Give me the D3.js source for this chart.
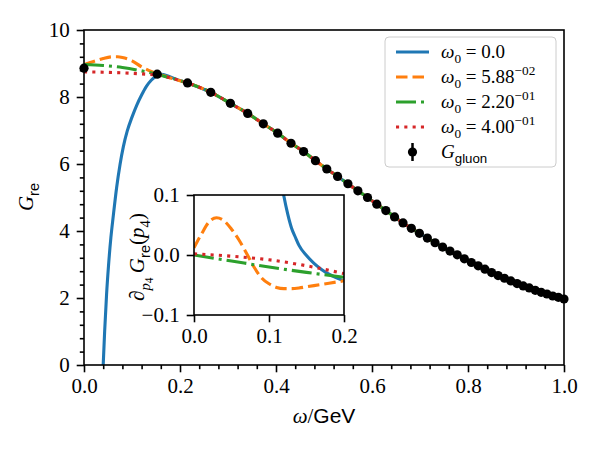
<!DOCTYPE html>
<html>
<head>
<meta charset="utf-8">
<script src="https://cdn.jsdelivr.net/npm/d3@7"></script>
<style>
  body { margin: 0; background: #fff; }
  svg { display: block; }
</style>
</head>
<body>
<div id="chart"></div>
<script>
// G_gluon points
const gluonX = [0, 0.1525, 0.2157, 0.2641, 0.3050, 0.3410, 0.3735, 0.4035, 0.4313, 0.4575,
    0.4822, 0.5058, 0.5283, 0.5498, 0.5706, 0.5906, 0.6100, 0.6288, 0.6470, 0.6647,
    0.6820, 0.6988, 0.7153, 0.7314, 0.7471, 0.7625, 0.7776, 0.7924, 0.8069, 0.8212,
    0.8353, 0.8491, 0.8627, 0.8760, 0.8892, 0.9022, 0.9150, 0.9276, 0.9401, 0.9524,
    0.9645, 0.9765, 0.9883, 1.0];
const gluonG = [8.86, 8.68, 8.42, 8.14, 7.81, 7.51, 7.20, 6.92, 6.62, 6.37,
    6.10, 5.85, 5.63, 5.41, 5.20, 5.00, 4.80, 4.61, 4.42, 4.24,
    4.08, 3.93, 3.79, 3.65, 3.52, 3.40, 3.29, 3.17, 3.06, 2.96,
    2.86, 2.76, 2.67, 2.59, 2.51, 2.43, 2.36, 2.30, 2.23, 2.17,
    2.12, 2.06, 2.02, 1.97];

// common part of all fitted curves (x >= 0.2)
const tailX = [0.2157, 0.2641, 0.3050, 0.3410, 0.3735, 0.4035, 0.4313, 0.4575, 0.4822, 0.5058,
    0.5283, 0.5498, 0.5706, 0.5906, 0.6100, 0.6288, 0.6470, 0.6647, 0.6820, 0.6988,
    0.7153, 0.7314, 0.7471, 0.7625, 0.7776, 0.7924, 0.8069, 0.8212, 0.8353, 0.8491,
    0.8627, 0.8760, 0.8892, 0.9022, 0.9150, 0.9276, 0.9401, 0.9524, 0.9645, 0.9765,
    0.9883, 1.0];
const tailG = [8.42, 8.14, 7.81, 7.51, 7.20, 6.92, 6.62, 6.37, 6.10, 5.85,
    5.63, 5.41, 5.20, 5.00, 4.80, 4.61, 4.42, 4.24, 4.08, 3.93,
    3.79, 3.65, 3.52, 3.40, 3.29, 3.17, 3.06, 2.96, 2.86, 2.76,
    2.67, 2.59, 2.51, 2.43, 2.36, 2.30, 2.23, 2.17, 2.12, 2.06,
    2.02, 1.97];

// low-omega parts of each curve
const blueX = [0.036, 0.040, 0.043, 0.047, 0.051, 0.056, 0.061, 0.068, 0.075, 0.082, 0.090,
    0.100, 0.110, 0.120, 0.130, 0.140, 0.150, 0.160, 0.175, 0.190];
const blueG = [-1.6, 0.0, 1.0, 2.1, 2.95, 3.8, 4.45, 5.3, 5.98, 6.52, 6.98,
    7.40, 7.76, 8.06, 8.32, 8.50, 8.62, 8.68, 8.63, 8.54];
const orangeX = [0, 0.02, 0.04, 0.06, 0.07, 0.08, 0.10, 0.12, 0.14, 0.16, 0.18];
const orangeG = [8.97, 9.06, 9.15, 9.20, 9.20, 9.18, 9.08, 8.90, 8.76, 8.66, 8.57];
const greenX = [0, 0.04, 0.08, 0.12, 0.16, 0.18];
const greenG = [8.97, 8.94, 8.88, 8.78, 8.65, 8.57];
const redX = [0, 0.04, 0.08, 0.12, 0.16, 0.18];
const redG = [8.75, 8.74, 8.72, 8.69, 8.64, 8.57];

// inset: derivative
const dBlueX = [0.116, 0.120, 0.125, 0.130, 0.135, 0.140, 0.150, 0.160, 0.170, 0.180, 0.190, 0.200];
const dBlueY = [0.125, 0.097, 0.068, 0.045, 0.030, 0.016, -0.001, -0.014, -0.024, -0.032, -0.038, -0.043];
const dOrangeX = [0, 0.01, 0.02, 0.03, 0.04, 0.05, 0.06, 0.07, 0.08, 0.09, 0.10,
    0.11, 0.12, 0.13, 0.14, 0.15, 0.16, 0.17, 0.18, 0.19, 0.20];
const dOrangeY = [0.012, 0.035, 0.055, 0.062, 0.057, 0.043, 0.025, 0.003, -0.020, -0.038, -0.048,
    -0.054, -0.056, -0.056, -0.055, -0.053, -0.051, -0.049, -0.047, -0.045, -0.043];
const dGreenX = [0, 0.05, 0.10, 0.15, 0.20];
const dGreenY = [0.0, -0.010, -0.020, -0.029, -0.037];
const dRedX = [0, 0.05, 0.10, 0.15, 0.20];
const dRedY = [0.002, -0.002, -0.008, -0.018, -0.031];

// ticks
const xTicks = [0, 0.2, 0.4, 0.6, 0.8, 1.0];
const yTicks = [0, 2, 4, 6, 8, 10];
const insetXTicks = [0, 0.1, 0.2];
const insetYTicks = [-0.1, 0, 0.1];
const legendValues = [['0.0', null], ['5.88', '\u221202'], ['2.20', '\u221201'], ['4.00', '\u221201']];

const SERIF = '"Liberation Serif", "DejaVu Serif", serif';
const SANS = '"Liberation Sans", "DejaVu Sans", sans-serif';
const FS = 21;

const colors = ['#1f77b4', '#ff7f0e', '#2ca02c', '#d62728'];
const dashes = [null, '11.5,5', '20,5,3,5', '3.1,5.2'];

const svg = d3.select('#chart')
    .append('svg')
    .attr('width', 600)
    .attr('height', 450);

const x = d3.scaleLinear().domain([0, 1]).range([84, 564]);
const y = d3.scaleLinear().domain([0, 10]).range([365, 30]);

const defs = svg.append('defs');
defs.append('clipPath').attr('id', 'clip-main')
    .append('rect').attr('x', 84).attr('y', 30).attr('width', 480).attr('height', 335);
defs.append('clipPath').attr('id', 'clip-inset')
    .append('rect').attr('x', 194).attr('y', 195).attr('width', 150).attr('height', 120);

// math-ish text made of tspans
function mathText(sel, parts, size) {
    let cur = 0;
    parts.forEach(([t, kind, pos]) => {
        const shift = pos === 'sub' ? 0.28 * size : pos === 'sup' ? -0.42 * size
            : pos === 'subsub' ? 0.45 * size : 0;
        const fs = pos === 'subsub' ? 0.55 * size : pos ? 0.7 * size : size;
        sel.append('tspan')
            .attr('dy', shift - cur)
            .style('font-family', kind === 'sf' ? SANS : SERIF)
            .style('font-style', kind === 'it' ? 'italic' : 'normal')
            .style('font-size', fs + 'px')
            .text(t);
        cur = shift;
    });
}

function styleAxis(g, size) {
    g.attr('font-family', null).attr('font-size', null);
    g.select('.domain').remove();
    g.selectAll('line').attr('stroke', '#000').attr('stroke-width', 1.6);
    g.selectAll('text')
        .style('font-family', SERIF)
        .style('font-size', size + 'px')
        .attr('fill', '#000');
}

const fmt1 = d => d3.format('.1f')(d).replace('-', '\u2212');

// main curves
const line = d3.line()
    .x(d => x(d[0]))
    .y(d => y(d[1]))
    .curve(d3.curveMonotoneX);

const heads = [[blueX, blueG], [orangeX, orangeG], [greenX, greenG], [redX, redG]];
const mainLines = svg.append('g').attr('clip-path', 'url(#clip-main)');
heads.forEach(([hx, hy], i) => {
    const pts = hx.map((v, k) => [v, hy[k]])
        .concat(tailX.map((v, k) => [v, tailG[k]]));
    mainLines.append('path')
        .datum(pts)
        .attr('d', line)
        .attr('fill', 'none')
        .attr('stroke', colors[i])
        .attr('stroke-width', 3.1)
        .attr('stroke-dasharray', dashes[i]);
});

// gluon points
svg.append('g')
    .selectAll('circle')
    .data(gluonX.map((v, k) => [v, gluonG[k]]))
    .enter()
    .append('circle')
    .attr('cx', d => x(d[0]))
    .attr('cy', d => y(d[1]))
    .attr('r', 4.6)
    .attr('fill', '#000');

// main axes
const xMinor = d3.range(0, 1.0001, 0.04).filter(v => Math.abs(v * 5 - Math.round(v * 5)) > 1e-6);
const yMinor = d3.range(0, 10.001, 0.4).filter(v => Math.abs(v / 2 - Math.round(v / 2)) > 1e-6);

svg.append('g').attr('transform', 'translate(0,365)')
    .call(d3.axisBottom(x).tickValues(xMinor).tickSize(4.2).tickFormat(''))
    .call(g => styleAxis(g, FS));
svg.append('g').attr('transform', 'translate(0,365)')
    .call(d3.axisBottom(x).tickValues(xTicks).tickSize(7.3).tickPadding(6).tickFormat(fmt1))
    .call(g => styleAxis(g, FS));
svg.append('g').attr('transform', 'translate(84,0)')
    .call(d3.axisLeft(y).tickValues(yMinor).tickSize(4.2).tickFormat(''))
    .call(g => styleAxis(g, FS));
svg.append('g').attr('transform', 'translate(84,0)')
    .call(d3.axisLeft(y).tickValues(yTicks).tickSize(7.3).tickPadding(7).tickFormat(d3.format('d')))
    .call(g => styleAxis(g, FS));

svg.append('rect')
    .attr('x', 84).attr('y', 30).attr('width', 480).attr('height', 335)
    .attr('fill', 'none').attr('stroke', '#000').attr('stroke-width', 1.6);

// axis labels
mathText(svg.append('text').attr('x', 324).attr('y', 423).attr('text-anchor', 'middle'),
    [['\u03c9', 'it'], ['/', 'rm'], ['GeV', 'sf']], FS);
mathText(svg.append('text').attr('transform', 'translate(33,197) rotate(-90)').attr('text-anchor', 'middle'),
    [['G', 'it'], ['re', 'sf', 'sub']], FS);

// inset
const ix = d3.scaleLinear().domain([0, 0.2]).range([194, 344]);
const iy = d3.scaleLinear().domain([-0.1, 0.1]).range([315, 195]);
const inset = svg.append('g');
inset.append('rect')
    .attr('x', 194).attr('y', 195).attr('width', 150).attr('height', 120)
    .attr('fill', '#fff');

const iline = d3.line()
    .x(d => ix(d[0]))
    .y(d => iy(d[1]))
    .curve(d3.curveMonotoneX);
const dSeries = [[dBlueX, dBlueY], [dOrangeX, dOrangeY], [dGreenX, dGreenY], [dRedX, dRedY]];
const insetLines = inset.append('g').attr('clip-path', 'url(#clip-inset)');
dSeries.forEach(([dx, dy], i) => {
    insetLines.append('path')
        .datum(dx.map((v, k) => [v, dy[k]]))
        .attr('d', iline)
        .attr('fill', 'none')
        .attr('stroke', colors[i])
        .attr('stroke-width', 3.1)
        .attr('stroke-dasharray', dashes[i]);
});

inset.append('g').attr('transform', 'translate(0,315)')
    .call(d3.axisBottom(ix).tickValues(insetXTicks).tickSize(7.3).tickPadding(6).tickFormat(fmt1))
    .call(g => styleAxis(g, FS));
inset.append('g').attr('transform', 'translate(194,0)')
    .call(d3.axisLeft(iy).tickValues(insetYTicks).tickSize(7.3).tickPadding(7).tickFormat(fmt1))
    .call(g => styleAxis(g, FS));
inset.append('rect')
    .attr('x', 194).attr('y', 195).attr('width', 150).attr('height', 120)
    .attr('fill', 'none').attr('stroke', '#000').attr('stroke-width', 1.6);

mathText(inset.append('text').attr('transform', 'translate(144,257) rotate(-90)').attr('text-anchor', 'middle'),
    [['\u2202', 'rm'], ['p', 'it', 'sub'], ['4', 'rm', 'subsub'], ['\u2009', 'rm'], ['G', 'it'], ['re', 'sf', 'sub'],
     ['(', 'rm'], ['p', 'it'], ['4', 'rm', 'sub'], [')', 'rm']], FS);

// legend
const legend = svg.append('g');
legend.append('rect')
    .attr('x', 385).attr('y', 37).attr('width', 171).attr('height', 130)
    .attr('rx', 4)
    .attr('fill', '#fff').attr('fill-opacity', 0.8)
    .attr('stroke', '#ccc').attr('stroke-width', 1);

const LFS = 19;
legendValues.forEach(([num, exp], i) => {
    const cy = 52 + i * 25;
    legend.append('line')
        .attr('x1', 396).attr('x2', 429).attr('y1', cy).attr('y2', cy)
        .attr('stroke', colors[i]).attr('stroke-width', 3.1)
        .attr('stroke-dasharray', dashes[i]);
    const parts = [['\u03c9', 'it'], ['0', 'rm', 'sub'], [' = ' + num, 'rm']];
    if (exp) parts.push([exp, 'rm', 'sup']);
    mathText(legend.append('text').attr('x', 441).attr('y', cy + 6), parts, LFS);
});
const gy = 52 + 4 * 25;
legend.append('line')
    .attr('x1', 412.5).attr('x2', 412.5).attr('y1', gy - 9).attr('y2', gy + 9)
    .attr('stroke', '#000').attr('stroke-width', 2.5);
legend.append('circle')
    .attr('cx', 412.5).attr('cy', gy).attr('r', 4.6).attr('fill', '#000');
mathText(legend.append('text').attr('x', 441).attr('y', gy + 6),
    [['G', 'it'], ['gluon', 'sf', 'sub']], LFS);
</script>
</body>
</html>
